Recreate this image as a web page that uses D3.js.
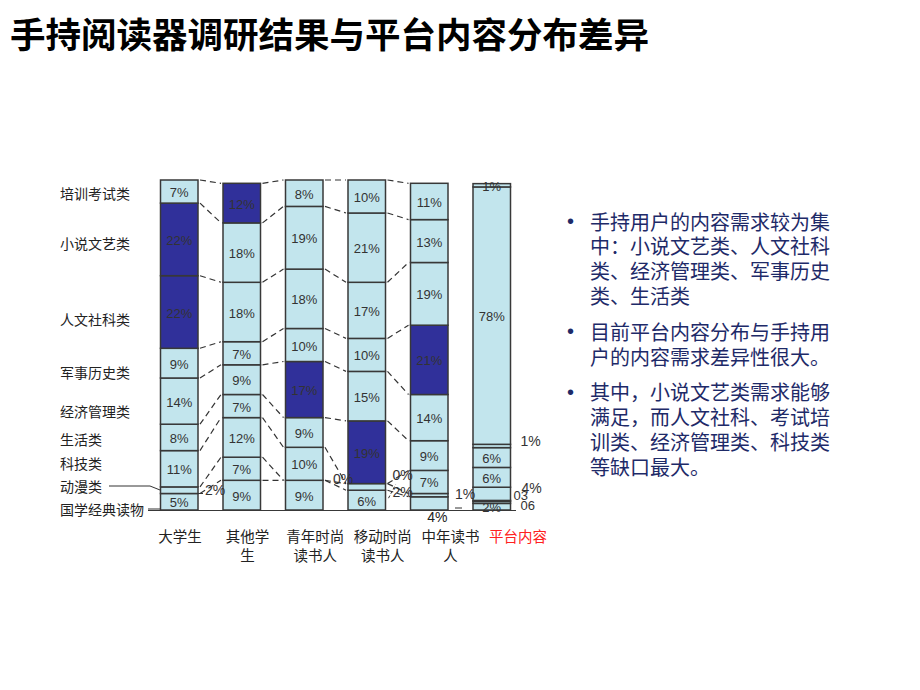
<!DOCTYPE html>
<html><head><meta charset="utf-8">
<script src="https://cdn.jsdelivr.net/npm/d3@7/dist/d3.min.js"></script>
<style>
html,body{margin:0;padding:0;background:#fff;}
svg{display:block;}
</style></head>
<body>
<svg id="chart" width="920" height="690"></svg>
<script>
// ---------- data ----------
const groups = ["大学生","其他学生","青年时尚读书人","移动时尚读书人","中年读书人","平台内容"];
const groupLabelLines = [["大学生"],["其他学","生"],["青年时尚","读书人"],["移动时尚","读书人"],["中年读书","人"],["平台内容"]];
// bottom to top
const categories = ["国学经典读物","动漫类","科技类","生活类","经济管理类","军事历史类","人文社科类","小说文艺类","培训考试类"];
const guoxue   = [5, 9, 9, 6, 4, 2];
const dongman  = [2, 7, 0, 2, 1, 0.6];
const keji     = [11, 12, 10, 0, 7, 0.3];
const shenghuo = [8, 7, 9, 19, 9, 4];
const jingji   = [14, 9, 17, 15, 14, 6];
const junshi   = [9, 7, 10, 10, 21, 6];
const renwen   = [22, 18, 18, 17, 19, 1];
const xiaoshuo = [22, 18, 19, 21, 13, 78];
const peixun   = [7, 12, 8, 10, 11, 1];
const highlight = [["小说文艺类","人文社科类"],["培训考试类"],["经济管理类"],["生活类"],["军事历史类"],[]];
const title = "手持阅读器调研结果与平台内容分布差异";
const bullets = [
  ["手持用户的内容需求较为集","中：小说文艺类、人文社科","类、经济管理类、军事历史","类、生活类"],
  ["目前平台内容分布与手持用","户的内容需求差异性很大。"],
  ["其中，小说文艺类需求能够","满足，而人文社科、考试培","训类、经济管理类、科技类","等缺口最大。"]
];
const seriesValues = [guoxue, dongman, keji, shenghuo, jingji, junshi, renwen, xiaoshuo, peixun];

// ---------- build table ----------
const table = groups.map((g, gi) => {
  const row = {group: g};
  categories.forEach((c, ci) => row[c] = seriesValues[ci][gi]);
  return row;
});
const stack = d3.stack().keys(categories)(table);

const svg = d3.select("#chart");
const x = d3.scaleBand().domain(groups).range([148, 523]).paddingInner(0.4).paddingOuter(0.2);
const y = d3.scaleLinear().domain([0, 100]).range([510, 180]);
const bw = x.bandwidth();

const LIGHT = "#c2e5ed", DARK = "#30309a", STROKE = "#383838";
const sansFont = "'Liberation Sans', Arial, sans-serif";
const cjk = "'Noto Sans CJK SC', sans-serif";

// title
svg.append("text").attr("x", 10).attr("y", 32).attr("dominant-baseline", "central")
  .attr("font-family", cjk).attr("font-weight", "bold").attr("font-size", 35.5)
  .attr("fill", "#000").text(title);

// dashed connectors between adjacent user bars
const gConn = svg.append("g");
for (let gi = 0; gi < 4; gi++) {
  stack.forEach(layer => {
    const a = layer[gi][1], b = layer[gi + 1][1];
    gConn.append("line")
      .attr("x1", x(groups[gi]) + bw + 2).attr("y1", y(a))
      .attr("x2", x(groups[gi + 1]) - 2).attr("y2", y(b))
      .attr("stroke", "#333").attr("stroke-width", 1.2).attr("stroke-dasharray", "6,4");
  });
}

// baseline
svg.append("line").attr("x1", 148).attr("x2", 516).attr("y1", y(0) + 0.5).attr("y2", y(0) + 0.5)
  .attr("stroke", STROKE).attr("stroke-width", 1.2);

// segments
const gBars = svg.append("g");
stack.forEach(layer => {
  gBars.selectAll(null).data(layer).enter().append("rect")
    .attr("x", d => x(d.data.group))
    .attr("y", d => y(d[1]))
    .attr("width", bw)
    .attr("height", d => Math.max(0, y(d[0]) - y(d[1])))
    .attr("fill", (d, i) => highlight[i].includes(layer.key) ? DARK : LIGHT)
    .attr("stroke", STROKE).attr("stroke-width", 1.5);
});

// value labels
const fmt = v => (v > 0 && v < 1) ? String(v).replace(".", "") : v + "%";
const gLab = svg.append("g").attr("font-family", sansFont).attr("fill", "#333");
stack.forEach(layer => {
  layer.forEach((d, gi) => {
    const v = d.data[layer.key];
    const g = groups[gi];
    const inside = v >= 5 || (g === "平台内容" && (layer.key === "培训考试类" || layer.key === "国学经典读物"));
    if (inside) {
      gLab.append("text").attr("x", x(g) + bw / 2).attr("y", (y(d[0]) + y(d[1])) / 2 + 1)
        .attr("text-anchor", "middle").attr("dominant-baseline", "central")
        .attr("font-size", 13).text(fmt(v));
    }
  });
});

// outside labels for the thin segments
const outside = [
  {g: "大学生", c: "动漫类", dx: 7, dy: 0, fs: 14},
  {g: "青年时尚读书人", c: "动漫类", dx: 10, dy: -1, fs: 14},
  {g: "移动时尚读书人", c: "科技类", dx: 7, dy: -9, fs: 14},
  {g: "移动时尚读书人", c: "动漫类", dx: 7, dy: 5, fs: 14},
  {g: "中年读书人", c: "动漫类", dx: 7, dy: -1, fs: 14},
  {g: "平台内容", c: "人文社科类", dx: 10, dy: -5, fs: 14},
  {g: "平台内容", c: "生活类", dx: 11, dy: -6, fs: 14},
  {g: "平台内容", c: "科技类", dx: 3, dy: -5, fs: 13},
  {g: "平台内容", c: "动漫类", dx: 10, dy: 3, fs: 13}
];
outside.forEach(o => {
  const layer = stack.find(l => l.key === o.c);
  const gi = groups.indexOf(o.g);
  const d = layer[gi];
  gLab.append("text").attr("x", x(o.g) + bw + o.dx).attr("y", (y(d[0]) + y(d[1])) / 2 + o.dy)
    .attr("dominant-baseline", "central").attr("font-size", o.fs).text(fmt(d.data[o.c]));
});
// small leader marks
const dUni = stack[1][0];
svg.append("line").attr("x1", x(groups[0]) + bw - 1).attr("x2", x(groups[0]) + bw + 5)
  .attr("y1", y(dUni[0])).attr("y2", y(dUni[0])).attr("stroke", "#333");
const dMob = stack[1][3];
svg.append("line").attr("x1", x(groups[3]) + bw + 3).attr("y1", y(dMob[0]) + 8)
  .attr("x2", x(groups[3]) + bw + 10).attr("y2", y(dMob[1]) + 1).attr("stroke", "#333").attr("stroke-dasharray", "3,2");
// 中年 国学 4% label below bar with white box
const dMid = stack[0][4];
const midX = x(groups[4]) + bw / 2 + 8;
svg.append("rect").attr("x", midX - 13).attr("y", y(0) + 1).attr("width", 26).attr("height", 14).attr("fill", "#fff");
svg.append("text").attr("x", midX).attr("y", y(0) + 7).attr("text-anchor", "middle")
  .attr("dominant-baseline", "central").attr("font-family", sansFont).attr("font-size", 14).attr("fill", "#222")
  .text(fmt(dMid.data["国学经典读物"]));
svg.append("line").attr("x1", x(groups[4]) + bw + 7).attr("x2", x(groups[4]) + bw + 14)
  .attr("y1", y(0) - 2).attr("y2", y(0) - 2).attr("stroke", "#333");

// left category labels (aligned to first bar)
const leftY = {"培训考试类":193,"小说文艺类":243,"人文社科类":319,"军事历史类":372,"经济管理类":411,"生活类":439,"科技类":463,"动漫类":486,"国学经典读物":509};
const gLeft = svg.append("g").attr("font-family", cjk).attr("font-size", 14).attr("fill", "#222");
categories.forEach(c => {
  gLeft.append("text").attr("x", 60).attr("y", leftY[c]).attr("dominant-baseline", "central").text(c);
});
const x0 = x(groups[0]);
svg.append("polyline").attr("points", `109,${leftY["动漫类"]} 150,${leftY["动漫类"]} ${x0},${y(dUni.data["国学经典读物"] + 1)}`)
  .attr("fill", "none").attr("stroke", "#333").attr("stroke-width", 1);
svg.append("line").attr("x1", 148).attr("x2", x0).attr("y1", leftY["国学经典读物"]).attr("y2", leftY["国学经典读物"])
  .attr("stroke", "#333").attr("stroke-width", 1);

// bottom group labels
const xl = d3.scalePoint().domain(groups).range([180, 518]);
const gBot = svg.append("g").attr("font-family", cjk).attr("font-size", 14.5).attr("text-anchor", "middle");
groups.forEach((g, gi) => {
  groupLabelLines[gi].forEach((line, li) => {
    gBot.append("text").attr("x", xl(g)).attr("y", 535 + li * 19).attr("dominant-baseline", "central")
      .attr("fill", g === "平台内容" ? "#ff2020" : "#222").text(line);
  });
});

// right bullet text
const gTxt = svg.append("g").attr("font-family", cjk).attr("font-size", 20).attr("fill", "#1e2a68");
let yy = 221;
bullets.forEach((para, pi) => {
  gTxt.append("text").attr("x", 567).attr("y", yy).attr("dominant-baseline", "central")
    .attr("font-family", sansFont).attr("font-size", 20).text("•");
  para.forEach((line, li) => {
    gTxt.append("text").attr("x", 590).attr("y", yy + li * 24.8).attr("dominant-baseline", "central").text(line);
  });
  yy += para.length * 24.8 + 11;
});
</script>
</body></html>
